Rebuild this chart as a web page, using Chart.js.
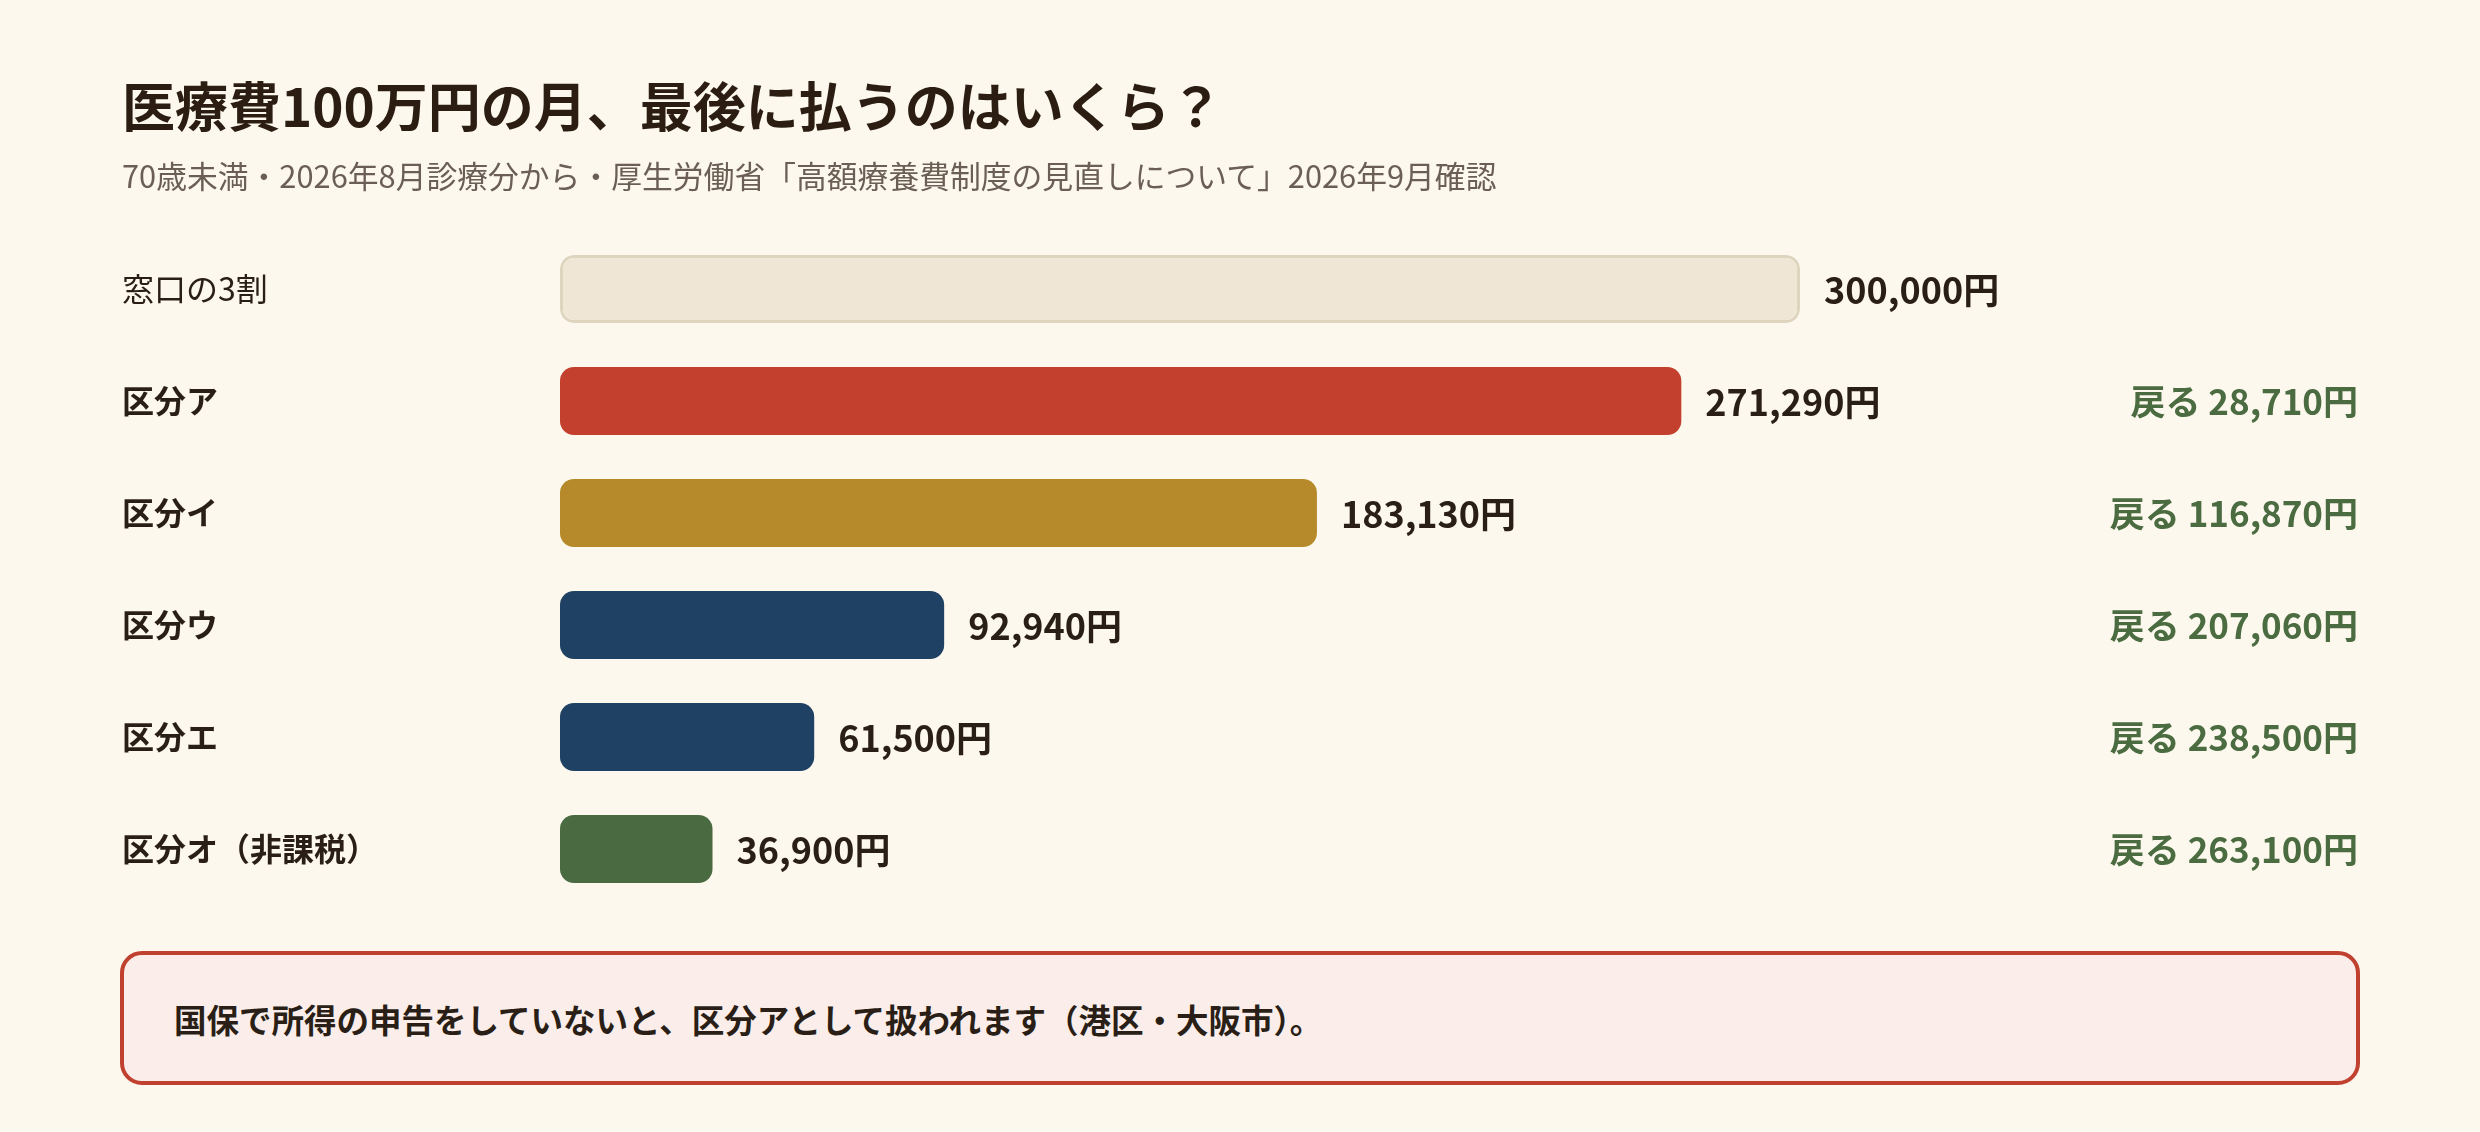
<!DOCTYPE html>
<html lang="ja"><head><meta charset="utf-8">
<script src="https://cdn.jsdelivr.net/npm/chart.js@4/dist/chart.umd.min.js"></script>
<style>
html,body{margin:0;padding:0;background:#fcf8ee;width:2480px;height:1132px;overflow:hidden;font-family:"Noto Sans CJK JP","Noto Sans",sans-serif;}
#chart{position:absolute;left:0;top:0;}
h1{position:absolute;left:122px;top:78px;margin:0;font-size:53px;font-weight:700;color:#2b1d12;line-height:53px;white-space:nowrap;}
.sub{position:absolute;left:122px;top:159px;margin:0;font-size:30.8px;font-weight:400;color:#6b5f55;line-height:31px;white-space:nowrap;}
.note{position:absolute;left:120px;top:951px;width:2240px;height:134px;box-sizing:border-box;border:4px solid #c0412f;border-radius:22px;background:#fbedea;display:flex;align-items:center;padding-left:50px;font-size:32.5px;font-weight:700;color:#2a1f17;white-space:nowrap;}
</style></head>
<body>
<canvas id="chart" width="2480" height="1132"></canvas>
<h1>医療費100万円の月、最後に払うのはいくら？</h1>
<p class="sub">70歳未満・2026年8月診療分から・厚生労働省「高額療養費制度の見直しについて」2026年9月確認</p>
<div class="note">国保で所得の申告をしていないと、区分アとして扱われます（港区・大阪市）。</div>
<script>
const categories = ['窓口の3割','区分ア','区分イ','区分ウ','区分エ','区分オ（非課税）'];
const payments = [300000, 271290, 183130, 92940, 61500, 36900];
const refunds = [null, 28710, 116870, 207060, 238500, 263100];
const barColors = ['#efe6d5','#c2402d','#b68a2b','#1e4164','#1e4164','#4a6b41'];
const barBorders = ['#dfd5be','#c2402d','#b68a2b','#1e4164','#1e4164','#4a6b41'];

const FONT = '"Noto Sans CJK JP","Noto Sans",sans-serif';
const fmt = v => v.toLocaleString('ja-JP') + '円';

const labelPlugin = {
  id: 'labels',
  afterDatasetsDraw(chart) {
    const ctx = chart.ctx;
    const meta = chart.getDatasetMeta(0);
    ctx.save();
    ctx.textBaseline = 'middle';
    meta.data.forEach((bar, i) => {
      ctx.font = '700 36px ' + FONT;
      ctx.fillStyle = '#2a1f17';
      ctx.textAlign = 'left';
      ctx.fillText(fmt(payments[i]), bar.x + 24, bar.y + 1);
      if (refunds[i] != null) {
        ctx.font = '700 35px ' + FONT;
        ctx.fillStyle = '#4b6b40';
        ctx.textAlign = 'right';
        ctx.fillText('戻る ' + fmt(refunds[i]), chart.width - 122, bar.y + 1);
      }
    });
    ctx.restore();
  }
};

new Chart(document.getElementById('chart'), {
  type: 'bar',
  data: {
    labels: categories,
    datasets: [{
      data: payments,
      backgroundColor: barColors,
      borderColor: barBorders,
      borderWidth: [3,0,0,0,0,0],
      borderRadius: 14,
      borderSkipped: false,
      barPercentage: 68/112,
      categoryPercentage: 1
    }]
  },
  options: {
    indexAxis: 'y',
    responsive: false,
    devicePixelRatio: 1,
    animation: false,
    layout: { padding: { left: 122, right: 680, top: 233, bottom: 227 } },
    plugins: { legend: { display: false }, tooltip: { enabled: false }, title: { display: false } },
    scales: {
      x: { min: 0, max: 300000, display: false },
      y: {
        grid: { display: false },
        border: { display: false },
        afterFit(scale) { scale.width = 438; },
        ticks: {
          crossAlign: 'far',
          padding: 0,
          color: '#2a1f17',
          font: (c) => ({ family: FONT, size: 32, weight: c.index === 0 ? '400' : '700' })
        }
      }
    }
  },
  plugins: [labelPlugin]
});
</script>
</body></html>
